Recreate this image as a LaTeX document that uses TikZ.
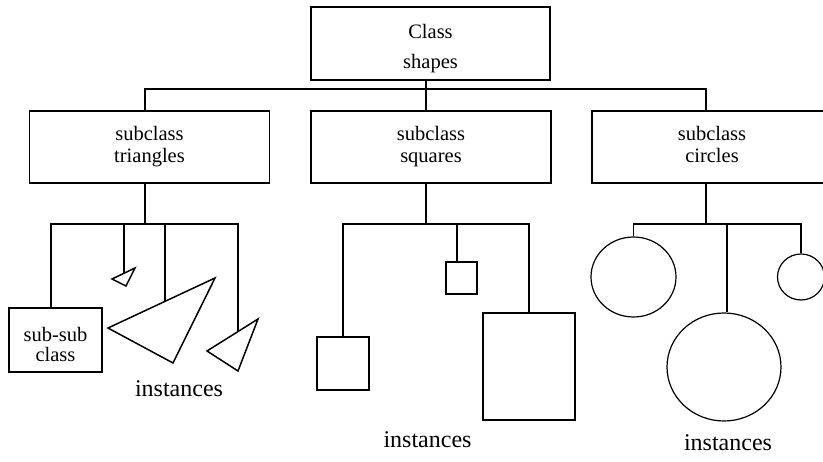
\documentclass[tikz,border=0pt]{standalone}
\usepackage{fontspec}
\setmainfont{Liberation Serif}
\usetikzlibrary{calc,shapes.geometric}

\tikzset{
  classbox/.style={draw,rectangle,align=center,inner sep=0pt,
    minimum width=240pt,minimum height=72pt,font=\fontsize{20.5}{22}\selectfont,
    text height=36pt,text depth=4pt},
  topbox/.style={classbox,minimum width=239pt,minimum height=73pt,
    font=\fontsize{20.5}{30}\selectfont,text height=55.4pt,text depth=4.4pt},
  subbox/.style={draw,rectangle,align=center,inner sep=0pt,
    minimum width=93pt,minimum height=64pt,font=\fontsize{20.5}{20}\selectfont,
    text height=44pt,text depth=0pt},
  sqbox/.style={draw,rectangle,inner sep=0pt},
  blob/.style={draw,ellipse,inner sep=0pt,line width=1.2pt},
  inst/.style={anchor=base,inner sep=0pt,font=\fontsize{24}{28}\selectfont}
}

\begin{document}
\begin{tikzpicture}[x=1pt,y=-1pt,line width=1.5pt]
  \useasboundingbox (0,0) rectangle (823,462);
  \clip (0,0) rectangle (823,462);

  % Class and subclasses
  \node[topbox] (cls) at (430.5,43.5) {Class\\shapes};
  \node[classbox] (tri) at (149.5,147) {subclass\\triangles};
  \node[classbox] (squ) at (431,147) {subclass\\squares};
  \node[classbox] (cir) at (712,147) {subclass\\circles};

  % Bus lines
  \coordinate (topbus) at (0,89);
  \coordinate (lowbus) at (0,224);
  \coordinate (tstem) at (145,0);
  \coordinate (sstem) at (426,0);
  \coordinate (cstem) at (706,0);
  \draw (cls.south -| sstem) -- (squ.north -| sstem);
  \draw (tri.north -| tstem) -- (tstem |- topbus) -- (cstem |- topbus) -- (cir.north -| cstem);

  % Triangles
  \node[subbox] (subsub) at (55.5,340) {sub-sub\\class};
  \coordinate (t1a) at (112,279);
  \coordinate (t1b) at (135,268);
  \coordinate (t1c) at (126,286);
  \coordinate (t2a) at (108,328);
  \coordinate (t2b) at (215,278);
  \coordinate (t2c) at (173,363);
  \coordinate (t3a) at (207,351);
  \coordinate (t3b) at (258,319);
  \coordinate (t3c) at (238,371);
  \draw (t1a) -- (t1b) -- (t1c) -- cycle;
  \draw (t2a) -- (t2b) -- (t2c) -- cycle;
  \draw (t3a) -- (t3b) -- (t3c) -- cycle;
  \coordinate (t1top) at ($(t1a)!0.52!(t1b)$);
  \coordinate (t2top) at ($(t2a)!0.533!(t2b)$);
  \coordinate (t3top) at ($(t3a)!0.608!(t3b)$);
  \draw (tri.south -| tstem) -- (tstem |- lowbus);
  \draw (subsub.north -| 51,0) -- (51,224) -- (t3top |- lowbus) -- (t3top);
  \draw (t1top |- lowbus) -- (t1top);
  \draw (t2top |- lowbus) -- (t2top);
  \node[inst] (insttri) at (179,397) {instances};

  % Squares
  \node[sqbox,minimum width=52pt,minimum height=53pt] (sq1) at (343,363.5) {};
  \node[sqbox,minimum width=31pt,minimum height=32pt] (sq2) at (461.5,278) {};
  \node[sqbox,minimum width=92pt,minimum height=107pt] (sq3) at (529,366.5) {};
  \draw (squ.south -| sstem) -- (sstem |- lowbus);
  \draw (sq1.north) -- (sq1.north |- lowbus) -- (sq3.north |- lowbus) -- (sq3.north);
  \draw (sq2.north -| 457,0) -- (457,224);
  \node[inst] (instsqu) at (427.5,448) {instances};

  % Circles
  \node[blob,minimum width=85pt,minimum height=80pt] (ci1) at (633.5,277) {};
  \node[blob,minimum width=114pt,minimum height=108pt] (ci2) at (724,367) {};
  \node[blob,minimum width=47pt,minimum height=46pt] (ci3) at (801,277) {};
  \draw (cir.south -| cstem) -- (cstem |- lowbus);
  \draw (ci1.north) -- (ci1.north |- lowbus) -- (ci3.north |- lowbus) -- (ci3.north);
  \draw (ci2.north -| 727,0) -- (727,224);
  \node[inst] (instcir) at (728,451) {instances};
\end{tikzpicture}
\end{document}
